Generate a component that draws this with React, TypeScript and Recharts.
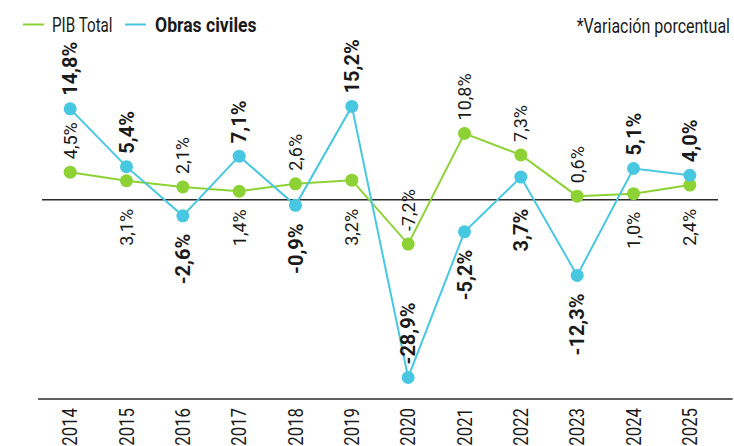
import React from "react";
import { LineChart, Line, XAxis, YAxis, ReferenceLine, LabelList } from "recharts";

const years = [2014, 2015, 2016, 2017, 2018, 2019, 2020, 2021, 2022, 2023, 2024, 2025];
const pibTotal = [4.5, 3.1, 2.1, 1.4, 2.6, 3.2, -7.2, 10.8, 7.3, 0.6, 1.0, 2.4];
const obrasCiviles = [14.8, 5.4, -2.6, 7.1, -0.9, 15.2, -28.9, -5.2, 3.7, -12.3, 5.1, 4.0];

const GREEN = "#8dd235";
const CYAN = "#48c8e0";
const INK = "#1a1a1a";
const FONT = "Roboto, 'Noto Sans', sans-serif";

const W = 734;
const H = 446;
const TOP = 40;
const AXIS_H = 47;
const Y_MIN = -32.4;
const Y_MAX = 26;
// only used to know where the zero line sits when placing labels
const zeroY = TOP + (Y_MAX / (Y_MAX - Y_MIN)) * (H - TOP - AXIS_H);

const data = years.map((year, i) => ({
  year,
  pib: pibTotal[i],
  obras: obrasCiviles[i],
}));

const fmt = (v: number) => v.toFixed(1).replace(".", ",") + "%";

// higher series gets its label above, lower one below (first year and the big drop stay above)
const makeLabel = (key: "pib" | "obras", bold: boolean) => (props: any) => {
  const { x, y, index, value } = props;
  const other = key === "pib" ? obrasCiviles[index] : pibTotal[index];
  let above = value >= other;
  if (index === 0 || value < -20) above = true;
  const ty = above ? y - 13 : Math.max(y + 18, zeroY + 9);
  return (
    <text
      transform={`translate(${x} ${ty}) rotate(-90)`}
      textAnchor={above ? "start" : "end"}
      dominantBaseline="central"
      fontFamily={FONT}
      fontSize={bold ? 20 : 18}
      fontWeight={bold ? 700 : 400}
      fill={INK}
    >
      {fmt(value)}
    </text>
  );
};

const YearTick = (props: any) => {
  const { x, payload } = props;
  return (
    <text
      transform={`translate(${x} 408) rotate(-90) scale(0.8 1)`}
      textAnchor="end"
      dominantBaseline="central"
      fontFamily={FONT}
      fontSize={21}
      fill={INK}
    >
      {payload.value}
    </text>
  );
};

const LegendBox = () => (
  <svg width={W} height={40} style={{ position: "absolute", left: 0, top: 0 }}>
    <line x1={23} x2={44} y1={24.5} y2={24.5} stroke={GREEN} strokeWidth={2} />
    <text transform="translate(52 32) scale(0.76 1)" fontFamily={FONT} fontSize={20} fill={INK}>
      PIB Total
    </text>
    <line x1={125} x2={146} y1={24.5} y2={24.5} stroke={CYAN} strokeWidth={2} />
    <text transform="translate(155 32) scale(0.88 1)" fontFamily={FONT} fontSize={20} fontWeight={700} fill={INK}>
      Obras civiles
    </text>
    <text transform="translate(730 33) scale(0.8 1)" textAnchor="end" fontFamily={FONT} fontSize={20} fill={INK}>
      *Variación porcentual
    </text>
  </svg>
);

export default function App() {
  return (
    <div style={{ position: "absolute", left: 0, top: 0, width: W, height: H, background: "#fff" }}>
      <LineChart width={W} height={H} data={data} margin={{ top: TOP, right: 16, bottom: 0, left: 42 }}>
        <XAxis
          dataKey="year"
          type="number"
          domain={[2013.5, 2025.5]}
          ticks={years}
          height={AXIS_H}
          axisLine={false}
          tickLine={false}
          tick={<YearTick />}
          interval={0}
        />
        <YAxis hide domain={[Y_MIN, Y_MAX]} allowDataOverflow />
        <ReferenceLine y={0} stroke="#2a2a2a" strokeWidth={1.5} />
        <ReferenceLine
          segment={[
            { x: 2013.43, y: Y_MIN },
            { x: 2025.76, y: Y_MIN },
          ]}
          ifOverflow="visible"
          stroke="#2a2a2a"
          strokeWidth={1.5}
        />
        <Line
          dataKey="pib"
          stroke={GREEN}
          strokeWidth={2}
          dot={{ r: 6.5, fill: GREEN, stroke: "none" }}
          isAnimationActive={false}
        >
          <LabelList dataKey="pib" content={makeLabel("pib", false)} />
        </Line>
        <Line
          dataKey="obras"
          stroke={CYAN}
          strokeWidth={2}
          dot={{ r: 6.5, fill: CYAN, stroke: "none" }}
          isAnimationActive={false}
        >
          <LabelList dataKey="obras" content={makeLabel("obras", true)} />
        </Line>
      </LineChart>
      <LegendBox />
    </div>
  );
}
